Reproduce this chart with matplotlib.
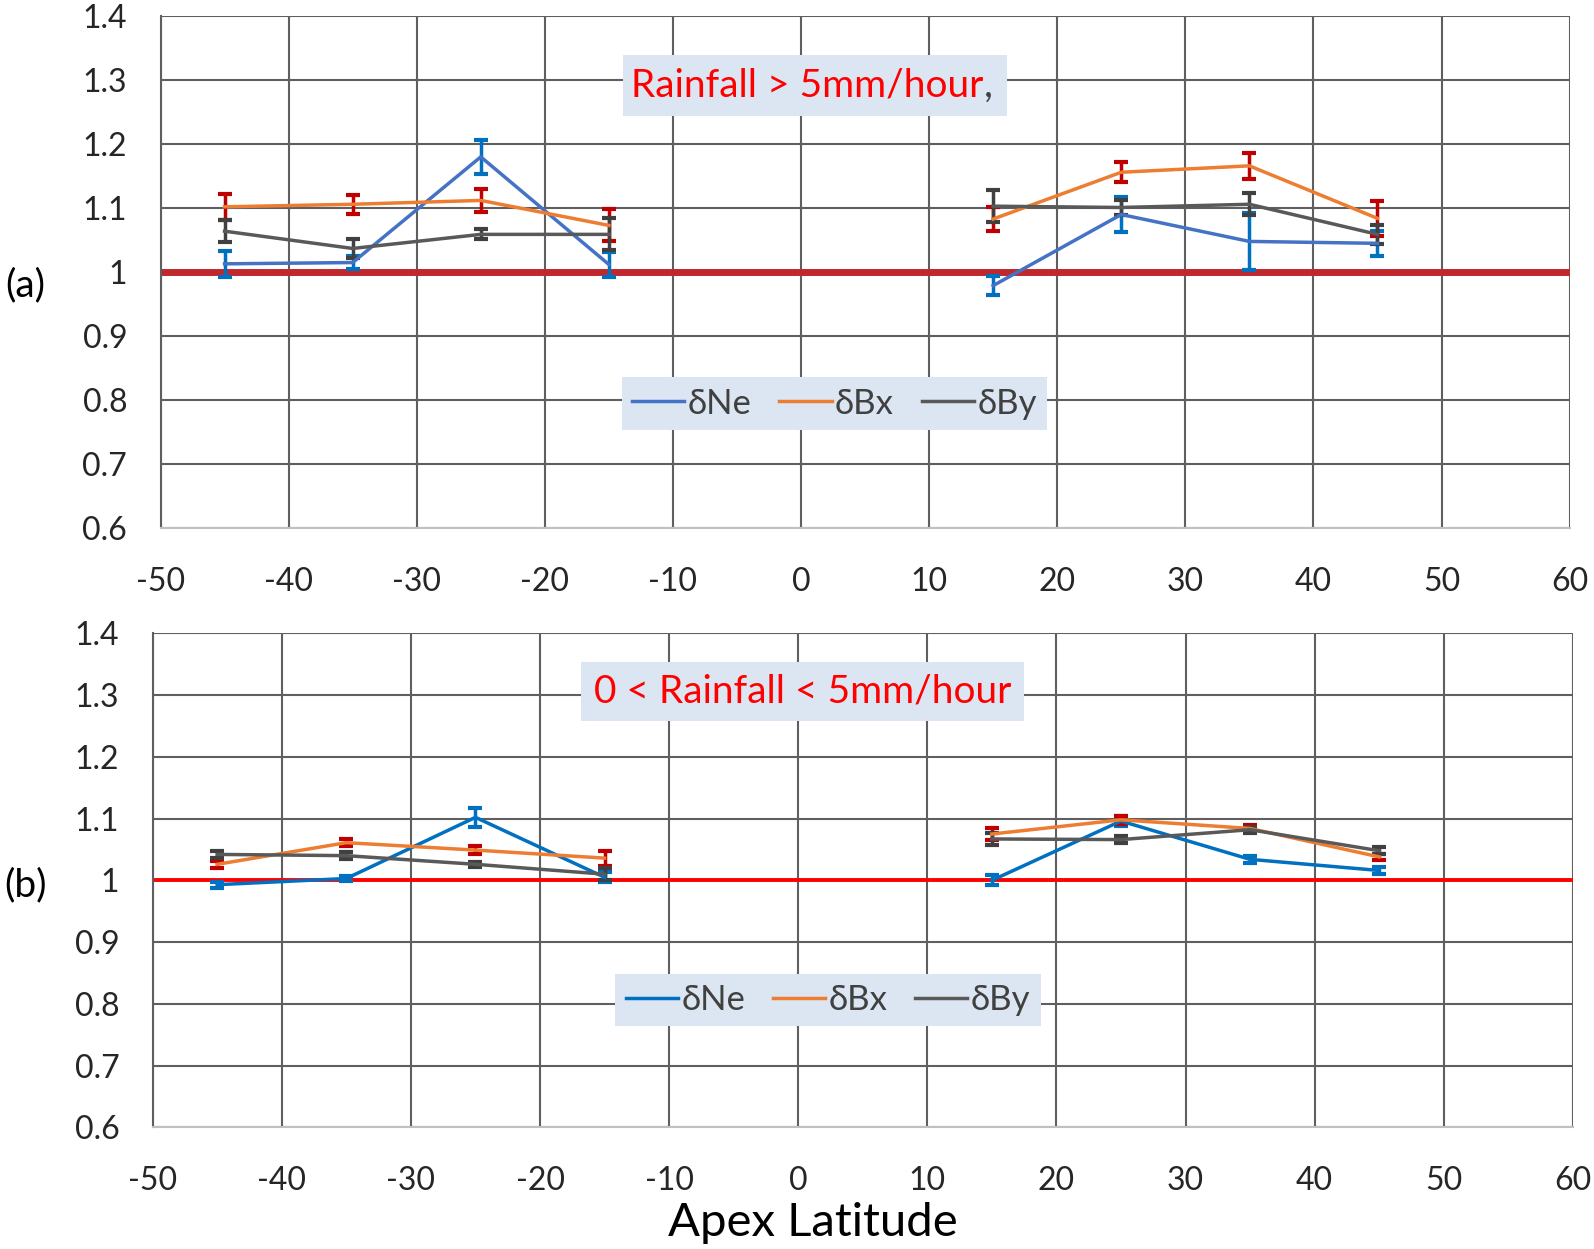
import numpy as np
import matplotlib
matplotlib.use("Agg")
import matplotlib.pyplot as plt
from matplotlib.patches import Rectangle

plt.rcParams['font.family'] = ['Lato', 'DejaVu Sans']

lat = [-45, -35, -25, -15, -5, 5, 15, 25, 35, 45]
nan = np.nan

# Panel (a): Rainfall > 5 mm/hour
a_ne = [1.013, 1.015, 1.180, 1.012, nan, nan, 0.979, 1.090, 1.048, 1.045]
a_ne_err = [0.020, 0.010, 0.027, 0.020, nan, nan, 0.015, 0.028, 0.045, 0.020]
a_bx = [1.102, 1.106, 1.112, 1.073, nan, nan, 1.083, 1.156, 1.166, 1.084]
a_bx_err = [0.020, 0.015, 0.018, 0.025, nan, nan, 0.018, 0.016, 0.020, 0.027]
a_by = [1.064, 1.037, 1.059, 1.059, nan, nan, 1.103, 1.101, 1.106, 1.059]
a_by_err = [0.017, 0.015, 0.008, 0.025, nan, nan, 0.025, 0.012, 0.017, 0.015]

# Panel (b): 0 < Rainfall < 5 mm/hour
b_ne = [0.993, 1.003, 1.102, 1.005, nan, nan, 1.000, 1.096, 1.034, 1.016]
b_ne_err = [0.005, 0.004, 0.015, 0.008, nan, nan, 0.008, 0.008, 0.006, 0.005]
b_bx = [1.026, 1.061, 1.049, 1.036, nan, nan, 1.075, 1.098, 1.084, 1.038]
b_bx_err = [0.006, 0.006, 0.006, 0.012, nan, nan, 0.010, 0.006, 0.005, 0.005]
b_by = [1.042, 1.040, 1.026, 1.010, nan, nan, 1.067, 1.066, 1.082, 1.048]
b_by_err = [0.006, 0.006, 0.004, 0.010, nan, nan, 0.010, 0.006, 0.005, 0.006]

series_names = ['δNe', 'δBx', 'δBy']
xticks = [-50, -40, -30, -20, -10, 0, 10, 20, 30, 40, 50, 60]
yticks = [0.6, 0.7, 0.8, 0.9, 1.0, 1.1, 1.2, 1.3, 1.4]
ytick_labels = ['0.6', '0.7', '0.8', '0.9', '1', '1.1', '1.2', '1.3', '1.4']

GRID = '#5f5f5f'
BOXC = '#dce6f2'
TXT = '#404040'

fig = plt.figure(figsize=(15.94, 12.49), dpi=100)
axa = fig.add_axes([0.1007, 0.5770, 0.8840, 0.4102])
axb = fig.add_axes([0.0958, 0.0973, 0.8909, 0.3957])


def setup(ax):
    ax.set_xlim(-50, 60)
    ax.set_ylim(0.6, 1.4)
    ax.set_xticks(xticks)
    ax.set_xticklabels([str(t) for t in xticks])
    ax.set_yticks(yticks)
    ax.set_yticklabels(ytick_labels)
    ax.grid(True, color=GRID, lw=1.5, zorder=0)
    ax.set_axisbelow(True)
    for s in ['top', 'right']:
        ax.spines[s].set_visible(False)
    ax.spines['left'].set_color(GRID)
    ax.spines['left'].set_linewidth(1.5)
    ax.spines['bottom'].set_color('#c0c0c0')
    ax.spines['bottom'].set_linewidth(1.5)
    ax.tick_params(length=0, labelsize=23, colors='#262626')
    ax.tick_params(axis='x', pad=28)
    ax.tick_params(axis='y', pad=24)


def draw(ax, ne, ne_e, bx, bx_e, by, by_e, ne_col, refcol, reflw):
    x = np.array(lat, dtype=float)
    ax.axhline(1.0, color=refcol, lw=reflw, zorder=2)
    specs = [(ne, ne_e, ne_col, '#0070c0'),
             (bx, bx_e, '#ed7d31', '#c00000'),
             (by, by_e, '#595959', '#404040')]
    handles = []
    for (y, e, lc, ec), name in zip(specs, series_names):
        y = np.array(y, dtype=float)
        e = np.array(e, dtype=float)
        ax.errorbar(x, y, yerr=e, fmt='none', ecolor=ec, elinewidth=2.5,
                    capsize=5, capthick=3, zorder=3)
        h, = ax.plot(x, y, color=lc, lw=2.5, zorder=4, label=name)
        handles.append(h)
    return handles


def title_box(ax, x0, x1, y0, y1, text, comma=False):
    ax.add_patch(Rectangle((x0, y0), x1 - x0, y1 - y0, facecolor=BOXC,
                           edgecolor='none', zorder=5))
    xc = (x0 + x1) / 2
    yc = (y0 + y1) / 2
    if comma:
        t = ax.text(xc - 0.6, yc, text, color='#ff0000', fontsize=28,
                    ha='center', va='center', zorder=6)
        ax.annotate(',', xy=(1, 0.5), xycoords=t, color=TXT, fontsize=28,
                    ha='left', va='center', zorder=6)
    else:
        ax.text(xc, yc, text, color='#ff0000', fontsize=28,
                ha='center', va='center', zorder=6)


setup(axa)
setup(axb)

ha = draw(axa, a_ne, a_ne_err, a_bx, a_bx_err, a_by, a_by_err,
          '#4472c4', '#c0282d', 5)
hb = draw(axb, b_ne, b_ne_err, b_bx, b_bx_err, b_by, b_by_err,
          '#0070c0', '#ff0000', 2.8)

title_box(axa, -13.9, 16.1, 1.244, 1.339, 'Rainfall > 5mm/hour', comma=True)
title_box(axb, -16.8, 17.5, 1.258, 1.354, '0 < Rainfall < 5mm/hour')

for ax, hs, cx, cy in [(axa, ha, 0.4783, 0.2436), (axb, hb, 0.4756, 0.258)]:
    leg = ax.legend(handles=hs, loc='center', bbox_to_anchor=(cx, cy),
                    ncol=3, fontsize=25, frameon=True, facecolor=BOXC,
                    edgecolor='none', framealpha=1, fancybox=False,
                    handlelength=1.5, handletextpad=0.1, columnspacing=0.8,
                    borderpad=0.3, labelcolor=TXT)
    leg.set_zorder(7)

fig.text(25 / 1594, 1 - 285 / 1249, '(a)', fontsize=28, ha='center',
         va='center', color='#000000')
fig.text(25 / 1594, 1 - 885 / 1249, '(b)', fontsize=28, ha='center',
         va='center', color='#000000')
fig.text(813 / 1594, 1 - 1223 / 1249, 'Apex Latitude', fontsize=34,
         ha='center', va='center', color='#000000')

fig.savefig('out.png', dpi=100, facecolor='white')
